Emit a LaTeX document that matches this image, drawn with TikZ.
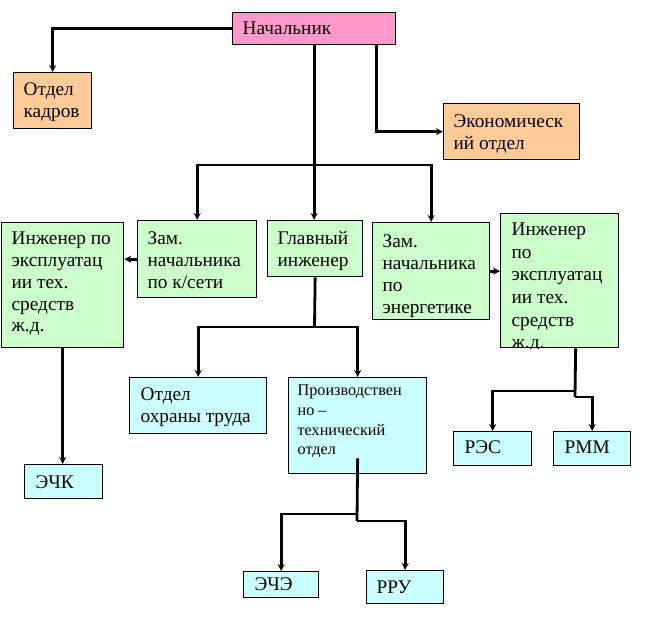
\documentclass[tikz,border=0pt]{standalone}
\usepackage{fontspec}
\setmainfont{Liberation Serif}
\usetikzlibrary{arrows.meta}

\definecolor{pinkbox}{HTML}{FF99CC}
\definecolor{orangebox}{HTML}{FFCC99}
\definecolor{greenbox}{HTML}{CCFFCC}
\definecolor{cyanbox}{HTML}{CCFFFF}

\newcommand{\cell}[4][23]{\parbox[t][#3pt][t]{#2pt}{\raggedright\rule{0pt}{#1pt}#4}}

\tikzset{
  box/.style={draw=black,line width=1.3pt,anchor=north west,inner xsep=10pt,inner ysep=0pt,font=\fontsize{19.3}{21.8}\selectfont},
  arr/.style={draw=black,line width=2.8pt,-{Stealth[length=7pt,width=7pt]}},
  line/.style={draw=black,line width=2.8pt},
}

\begin{document}
\begin{tikzpicture}[x=1pt,y=-1pt]
\useasboundingbox (0,0) rectangle (649,618);

\node[box,fill=pinkbox] (nach) at (232,12) {\cell[22]{143}{32}{Начальник}};
\node[box,fill=orangebox] (kadry) at (13,72) {\cell{58}{56}{Отдел\\кадров}};
\node[box,fill=orangebox] (econ) at (443,103) {\cell[24]{116}{56}{Экономическ\\ий отдел}};
\node[box,fill=greenbox] (inzh1) at (1,222) {\cell[22]{102}{125}{Инженер по\\эксплуатац\\ии тех.\\средств\\ж.д.}};
\node[box,fill=greenbox] (zam1) at (137,220) {\cell[24]{99}{77}{Зам.\\начальника\\по к/сети}};
\node[box,fill=greenbox] (glav) at (267,220) {\cell[24]{75}{56}{Главный\\инженер}};
\node[box,fill=greenbox] (zam2) at (372,222) {\cell[25]{97}{97}{Зам.\\начальника\\по\\энергетике}};
\begin{scope}
\clip (499,212) rectangle (619,348);
\node[box,fill=greenbox,inner xsep=11pt] (inzh2) at (500,213) {\cell[22]{96}{134}{\setlength\baselineskip{22.6pt}Инженер\\по\\эксплуатац\\ии тех.\\средств\\ж.д.}};
\end{scope}
\node[box,fill=cyanbox,inner xsep=11pt] (ohr) at (129,377) {\cell{115}{56}{Отдел\\охраны труда}};
\node[box,fill=cyanbox,inner xsep=9pt,font=\fontsize{16.2}{19.7}\selectfont] (pto) at (288,377) {\cell[18]{120}{96}{Производствен\\но –\\технический\\отдел}};
\node[box,fill=cyanbox,inner xsep=11pt] (echk) at (24,464) {\cell[24]{56}{34}{ЭЧК}};
\node[box,fill=cyanbox,inner xsep=11pt] (res) at (453,431) {\cell[22]{56}{34}{РЭС}};
\node[box,fill=cyanbox,inner xsep=11pt] (rmm) at (553,431) {\cell[22]{55}{34}{РММ}};
\node[box,fill=cyanbox,inner xsep=11pt] (echy) at (243,571) {\cell[19]{53}{26}{ЭЧЭ}};
\node[box,fill=cyanbox] (rru) at (366,570) {\cell{57}{33}{РРУ}};

\coordinate (j1) at (313.5,165);
\coordinate (j2) at (314.5,327);
\coordinate (j3) at (357,514);
\coordinate (j4) at (357,521);
\coordinate (j5) at (575,391);
\coordinate (j6) at (575,397);

\draw[arr] (nach.west) -| (kadry.north);
\draw[arr] ([xshift=62.5pt]nach.south) |- (econ.west);
\draw[arr] (nach.south) -- (nach.south |- glav.north);
\draw[arr] (j1) -| (zam1.north);
\draw[arr] (j1) -| (zam2.north);
\draw[arr] (zam1.west) -- (zam1.west -| inzh1.east);
\draw[arr] (zam2.east) -- (zam2.east -| inzh2.west);
\draw[arr] (inzh1.south) -- (inzh1.south |- echk.north);
\draw[line] (glav.south) -- (j2);
\draw[arr] (j2) -| (ohr.north);
\draw[arr] (j2) -| (pto.north);
\draw[line] ([yshift=16pt]pto.south) -- (j4);
\draw[arr] (j3) -| (echy.north);
\draw[arr] (j4) -| (rru.north);
\draw[line] ([xshift=16pt]inzh2.south) -- (j6);
\draw[arr] (j5) -| (res.north);
\draw[arr] (j6) -| (rmm.north);
\end{tikzpicture}
\end{document}
